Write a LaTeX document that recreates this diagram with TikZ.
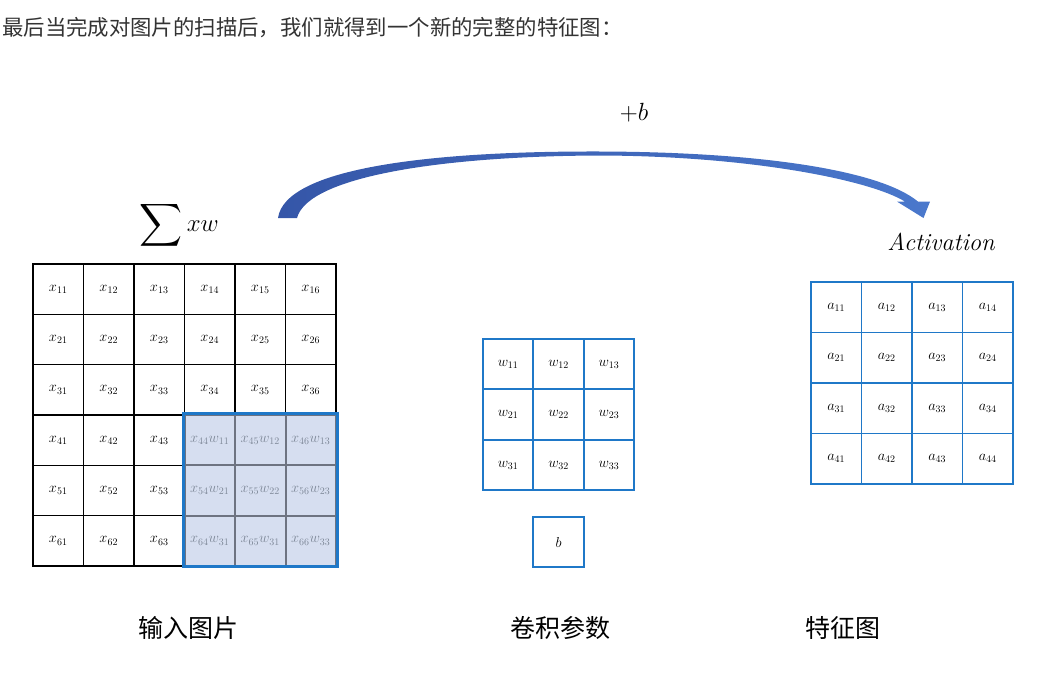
\documentclass[tikz,border=0pt]{standalone}
\usepackage{amsmath}
\usepackage{fontspec}
\newfontfamily\cjk{Noto Sans CJK SC}
\usetikzlibrary{positioning}

\definecolor{gridblue}{HTML}{1F78C8}
\definecolor{hlfill}{HTML}{D6DEF0}
\definecolor{hlline}{HTML}{6E7381}
\definecolor{hltext}{HTML}{7D8797}
\definecolor{arrowdark}{HTML}{3556A8}
\definecolor{arrowlight}{HTML}{4A78CC}
\definecolor{toptext}{HTML}{333333}

\begin{document}
\begin{tikzpicture}[
  x=1pt, y=-1pt,
  incell/.style={rectangle, draw=black, line width=1.5pt, minimum width=50.5pt, minimum height=50.33pt, inner sep=0pt, font=\fontsize{14}{16}\selectfont},
  hlcell/.style={incell, draw=hlline, line width=2pt, fill=hlfill, text=hltext},
  kcell/.style={rectangle, draw=gridblue, line width=2pt, minimum size=50.4pt, inner sep=0pt, font=\fontsize{14}{16}\selectfont},
  acell/.style={rectangle, draw=gridblue, line width=1.5pt, minimum size=50.5pt, inner sep=0pt, font=\fontsize{14}{16}\selectfont},
  caption/.style={font=\cjk\fontsize{25}{28}\selectfont, text=black},
  formula/.style={inner sep=0pt, font=\fontsize{26}{30}\selectfont}
]
  \useasboundingbox (0,0) rectangle (1041,696);

  % Kopfzeile
  \node (headline) [anchor=west, inner sep=0pt, text=toptext, font=\cjk\fontsize{21.4}{24}\selectfont] at (2,28) {最后当完成对图片的扫描后，我们就得到一个新的完整的特征图：};

  % Eingabebild
  \foreach \i in {1,2,3}
    \foreach \j in {1,...,6}
      \node (x\i\j) [incell] at ({33+50.5*(\j-0.5)},{264+50.33*(\i-0.5)}) {$x_{\i\j}$};
  \foreach \i in {4,5,6}
    \foreach \j in {1,2,3}
      \node (x\i\j) [incell] at ({33+50.5*(\j-0.5)},{264+50.33*(\i-0.5)}) {$x_{\i\j}$};
  \foreach \i/\j/\w in {4/4/11, 4/5/12, 4/6/13, 5/4/21, 5/5/22, 5/6/23, 6/4/31, 6/5/31, 6/6/33}
    \node (x\i\j) [hlcell] at ({33+50.5*(\j-0.5)},{264+50.33*(\i-0.5)}) {$x_{\i\j}w_{\w}$};
  \draw [gridblue, line width=3pt] (x44.north west) rectangle (x66.south east);

  % Faltungskern und Bias
  \foreach \i in {1,2,3}
    \foreach \j in {1,2,3}
      \node (w\i\j) [kcell] at ({483+50.4*(\j-0.5)},{339+50.4*(\i-0.5)}) {$w_{\i\j}$};
  \node (bias) [kcell, below=24.6pt of w32] {$b$};

  % Merkmalskarte
  \foreach \i in {1,...,4}
    \foreach \j in {1,...,4}
      \node (a\i\j) [acell] at ({811+50.5*(\j-0.5)},{282+50.5*(\i-0.5)}) {$a_{\i\j}$};

  % Formeln
  \node (sumxw) [formula, font=\fontsize{27}{32}\selectfont] at (179,225) {\raisebox{-1pt}{\scalebox{1.2}{$\displaystyle\sum$}}\,$xw$};
  \node (plusb) [formula] at (634,113) {$+b$};
  \node (activ) [formula, font=\fontsize{24.5}{28}\selectfont\itshape] at (941,242) {Activation};

  % Bogenpfeil
  \shade [left color=arrowdark, right color=arrowlight]
    (278,218) .. controls (285,168) and (430,151) .. (600,151.5)
    .. controls (760,152) and (880,170) .. (918,201.6)
    -- (930,201.6) -- (923.5,218) -- (897,201.6) -- (905,201.6)
    .. controls (870,180) and (750,156) .. (600,155.5)
    .. controls (445,156) and (308,176) .. (297,218) -- cycle;

  % Beschriftungen
  \node (inlabel) [caption] at (188,628) {输入图片};
  \node (klabel) [caption] at (560,628) {卷积参数};
  \node (alabel) [caption] at (843,628) {特征图};

\end{tikzpicture}
\end{document}
